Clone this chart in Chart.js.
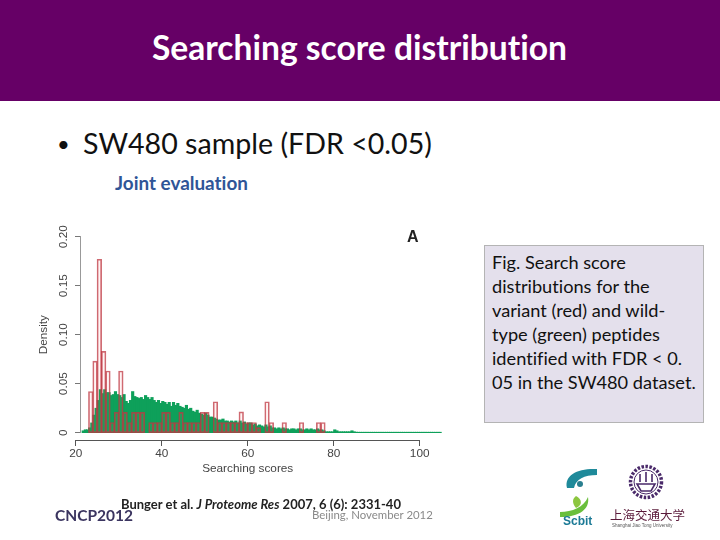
<!DOCTYPE html>
<html>
<head>
<meta charset="utf-8">
<script src="https://cdn.jsdelivr.net/npm/chart.js@4"></script>
<style>
  html, body { margin: 0; padding: 0; background: #fff; }
  #slide { position: relative; width: 720px; height: 540px; overflow: hidden; font-family: Lato, sans-serif; font-variant-ligatures: none; }
  #slide div { position: absolute; white-space: nowrap; }
  #band { left: 0; top: 0; width: 720px; height: 101px; background: #660066; }
  #title { left: 0; width: 719px; top: 27px; text-align: center; color: #fff; font-size: 33.6px; font-weight: 700; }
  #dot { left: 57px; top: 130px; font-size: 22px; color: #111; }
  #bullet { left: 83px; top: 126px; font-size: 28.6px; color: #111; }
  #joint { left: 115px; top: 171px; font-size: 18.9px; font-weight: 700; color: #2f5597; }
  #box { left: 484px; top: 245px; width: 218px; height: 176px; background: #e4e0ec; border: 1px solid #b4b4b4; }
  #note { left: 492px; top: 250px; font-size: 18.2px; line-height: 24px; color: #111; }
  #ref { left: 121px; top: 496px; font-size: 13px; font-weight: 700; color: #222; }
  #conf { left: 55px; top: 506px; font-size: 15.5px; font-weight: 700; color: #3b3560; }
  #place { left: 312px; top: 508px; font-size: 11.4px; color: #8a8a8a; }
  #panel { left: 407px; top: 228px; font: bold 16px "Liberation Sans", sans-serif; color: #222; }
  canvas { position: absolute; left: 0; top: 0; }
  svg { position: absolute; left: 550px; top: 455px; }
</style>
</head>
<body>
<div id="slide">
  <div id="band"></div>
  <div id="title">Searching score distribution</div>
  <div id="dot">•</div>
  <div id="bullet">SW480 sample (FDR &lt;0.05)</div>
  <div id="joint">Joint evaluation</div>
  <div id="box"></div>
  <div id="note">Fig. Search score<br>distributions for the<br>variant (red) and wild-<br>type (green) peptides<br>identified with FDR &lt; 0.<br>05 in the SW480 dataset.</div>
  <canvas id="histChart" width="720" height="540"></canvas>
  <div id="panel">A</div>
  <div id="ref">Bunger et al. <i>J Proteome Res</i> 2007, 6 (6): 2331-40</div>
  <div id="conf">CNCP2012</div>
  <div id="place">Beijing, November 2012</div>
  <svg width="150" height="80" viewBox="0 0 150 80">
    <path d="M17 33 C14 20 28 13 47 14 L47 20 C34 20 26 24 24 33 Z" fill="#1f8a9a"/>
    <circle cx="30" cy="29" r="3" fill="#2a7f8f"/>
    <path d="M26 41 C32 44 33 50 26 53 C22 48 22 44 26 41 Z" fill="#8cc63f"/>
    <path d="M10 57 C22 57 34 52 38 42 C40 54 30 62 10 62 Z" fill="#6abf3c"/>
    <text x="13" y="70" font-family="'Liberation Sans'" font-weight="700" font-size="12" fill="#1c7a96">Scbit</text>
    <circle cx="96" cy="27" r="15.5" fill="none" stroke="#4a2a6a" stroke-width="3.5" stroke-dasharray="2.5 1.5"/>
    <circle cx="96" cy="27" r="12" fill="none" stroke="#4a2a6a" stroke-width="1"/>
    <path d="M90 19 L90 27 M96 17 L96 27 M102 19 L102 27 M87 29 L105 29 L101 36 L91 36 Z" fill="none" stroke="#4a2a6a" stroke-width="1.6"/>
    <text x="60" y="65" font-family="'Noto Sans CJK SC'" font-size="12.5" fill="#5a1a3a">上海交通大学</text>
    <text x="62" y="71.5" font-family="'Liberation Sans'" font-size="4.5" fill="#555">Shanghai Jiao Tong University</text>
  </svg>
</div>
<script>
// Red histogram: variant peptides, 1 score wide bins (bin centres)
const variantBins = [23.5, 24.5, 25.5, 26.5, 27.5, 28.5, 29.5, 30.5, 31.5, 32.5, 33.5, 34.5, 35.5,
  37.5, 38.5, 39.5, 40.5, 41.5, 42.5, 43.5, 44.5, 45.5, 46.5, 47.5, 48.5, 49.5, 50.5, 52.5, 53.5, 54.5, 55.5, 56.5, 57.5, 58.5,
  59.5, 60.5, 61.5, 62.5, 64.5, 65.5, 68.5, 72.5, 76.5, 77.5];
const variantDensity = [0.042, 0.073, 0.177, 0.083, 0.063, 0.0104, 0.0208, 0.063, 0.0208, 0.0104, 0.0208, 0.0208, 0.0208,
  0.0104, 0.0104, 0.0104, 0.0208, 0.0208, 0.0104, 0.0104, 0.0208, 0.0104, 0.0104, 0.0104, 0.0104, 0.0208, 0.0208, 0.0316, 0.0104, 0.0104, 0.0104, 0.0104, 0.0104, 0.0212,
  0.0104, 0.0104, 0.0104, 0.0052, 0.0316, 0.0104, 0.0104, 0.0104, 0.0104, 0.0104];

// Green histogram: wild-type peptides, half score wide bins (bin centres)
const wildBins = [
  21.75, 22.25, 22.75, 23.25, 23.75, 24.25, 24.75, 25.25, 25.75, 26.25, 26.75, 27.25, 27.75, 28.25, 28.75, 29.25, 29.75,
  30.25, 30.75, 31.25, 31.75, 32.25, 32.75, 33.25, 33.75, 34.25, 34.75, 35.25, 35.75, 36.25, 36.75, 37.25, 37.75, 38.25, 38.75, 39.25, 39.75,
  40.25, 40.75, 41.25, 41.75, 42.25, 42.75, 43.25, 43.75, 44.25, 44.75, 45.25, 45.75, 46.25, 46.75, 47.25, 47.75, 48.25, 48.75, 49.25, 49.75,
  50.25, 50.75, 51.25, 51.75, 52.25, 52.75, 53.25, 53.75, 54.25, 54.75, 55.25, 55.75, 56.25, 56.75, 57.25, 57.75, 58.25, 58.75, 59.25, 59.75,
  60.25, 60.75, 61.25, 61.75, 62.25, 62.75, 63.25, 63.75, 64.25, 64.75, 65.25, 65.75, 66.25, 66.75, 67.25, 67.75, 68.25, 68.75, 69.25, 69.75,
  70.25, 70.75, 71.25, 71.75, 72.25, 72.75, 73.25, 73.75, 74.25, 74.75, 75.25, 75.75, 76.25, 76.75, 77.25, 77.75, 78.25, 78.75, 79.25, 79.75,
  80.25, 80.75, 81.25, 81.75, 82.25, 82.75, 83.25, 83.75, 84.25, 84.75, 85.25, 85.75, 86.25, 86.75, 87.25, 87.75, 88.25, 88.75, 89.25, 89.75,
  90.25, 90.75, 91.25, 91.75, 92.25, 92.75, 93.25, 93.75, 94.25, 94.75, 95.25, 95.75, 96.25, 96.75, 97.25, 97.75, 98.25, 98.75, 99.25, 99.75,
  100.25, 100.75, 101.25, 101.75, 102.25, 102.75, 103.25, 103.75, 104.25, 104.75];
const wildDensity = [
  0.002, 0.003, 0.003, 0.005, 0.010, 0.018, 0.025, 0.033, 0.044, 0.040, 0.044, 0.041, 0.041, 0.038, 0.039, 0.042, 0.039,
  0.038, 0.036, 0.039, 0.032, 0.030, 0.033, 0.042, 0.037, 0.036, 0.035, 0.036, 0.034, 0.038, 0.036, 0.034, 0.036, 0.033, 0.031, 0.033, 0.030,
  0.032, 0.031, 0.029, 0.031, 0.027, 0.031, 0.028, 0.030, 0.027, 0.026, 0.025, 0.028, 0.024, 0.025, 0.022, 0.021, 0.023, 0.020, 0.019, 0.018,
  0.020, 0.018, 0.016, 0.016, 0.015, 0.014, 0.013, 0.013, 0.014, 0.012, 0.012, 0.011, 0.012, 0.011, 0.012, 0.010, 0.012, 0.010, 0.011, 0.009,
  0.010, 0.010, 0.008, 0.009, 0.007, 0.008, 0.007, 0.006, 0.008, 0.006, 0.007, 0.005, 0.005, 0.004, 0.005, 0.004, 0.005, 0.004, 0.004, 0.003,
  0.004, 0.004, 0.003, 0.004, 0.004, 0.003, 0.003, 0.004, 0.003, 0.004, 0.003, 0.003, 0.004, 0.003, 0.003, 0.002, 0.001, 0.001, 0.001, 0.001,
  0.003, 0.002, 0.001, 0.001, 0.001, 0.001, 0.001, 0.001, 0.002, 0.001, 0.0006, 0.0005, 0.0005, 0.0005, 0.0005, 0.0005, 0.0005, 0.0005, 0.0005, 0.0005,
  0.0005, 0.0005, 0.0005, 0.0005, 0.0005, 0.0005, 0.0005, 0.0005, 0.0005, 0.0005, 0.0005, 0.0005, 0.0005, 0.0005, 0.0005, 0.0005, 0.0005, 0.0005, 0.0005, 0.0005,
  0.0005, 0.0005, 0.0005, 0.0005, 0.0005, 0.0005, 0.0005, 0.0005, 0.0005, 0.0005];

const xTicks = [20, 40, 60, 80, 100];
const yTicks = [0, 0.05, 0.1, 0.15, 0.2];
const yTickLabels = ['0', '0.05', '0.10', '0.15', '0.20'];

const axisFont = { family: 'Liberation Sans', size: 11.8 };

new Chart(document.getElementById('histChart'), {
    type: 'bar',
    data: {
        datasets: [
            {
                label: 'Wild-type',
                data: wildBins.map((b, i) => ({ x: b, y: wildDensity[i] })),
                backgroundColor: '#0ea05a',
                barThickness: 2.5,
                clip: false,
                order: 2
            },
            {
                label: 'Variant',
                data: variantBins.map((b, i) => ({ x: b, y: variantDensity[i] })),
                backgroundColor: 'rgba(255, 120, 120, 0.08)',
                borderColor: 'rgba(190, 55, 65, 0.75)',
                borderWidth: 1,
                borderSkipped: false,
                barThickness: 4.6,
                clip: false,
                order: 1
            }
        ]
    },
    options: {
        responsive: false,
        animation: false,
        layout: { padding: { left: 30, top: 236.7, right: 300.3, bottom: 107.3 } },
        plugins: { legend: { display: false }, tooltip: { enabled: false } },
        datasets: { bar: { grouped: false } },
        scales: {
            x: {
                type: 'linear',
                offset: false,
                position: { y: -0.0082 },
                min: 20,
                max: 100,
                afterBuildTicks: scale => { scale.ticks = xTicks.map(v => ({ value: v })); },
                grid: { drawOnChartArea: false, offset: false, color: '#555', tickLength: 5 },
                border: { color: '#555', width: 1 },
                ticks: { color: '#444', font: axisFont, maxRotation: 0, padding: 1 },
                title: { display: true, text: 'Searching scores', color: '#444', font: axisFont, padding: { top: 0, bottom: 0 } }
            },
            // left scale only carries the rotated labels and the title
            y: {
                type: 'linear',
                position: 'left',
                min: 0,
                max: 0.2,
                afterBuildTicks: scale => { scale.ticks = yTicks.map(v => ({ value: v })); },
                afterFit: scale => { scale.width = 45.7; },
                grid: { display: false },
                border: { display: false },
                ticks: {
                    color: '#444',
                    font: axisFont,
                    minRotation: 90,
                    maxRotation: 90,
                    crossAlign: 'center',
                    padding: -8,
                    callback: (v, i) => yTickLabels[i]
                },
                title: { display: true, text: 'Density', color: '#444', font: axisFont, padding: { top: 7, bottom: 0 } }
            },
            // axis line sits a little inside the plot, as in the figure
            yLine: {
                type: 'linear',
                axis: 'y',
                position: { x: 21.16 },
                min: 0,
                max: 0.2,
                afterBuildTicks: scale => { scale.ticks = yTicks.map(v => ({ value: v })); },
                grid: { drawOnChartArea: false, color: '#777', tickLength: 5 },
                border: { color: '#999', width: 1 },
                ticks: { display: false }
            }
        }
    }
});
</script>
</body>
</html>
